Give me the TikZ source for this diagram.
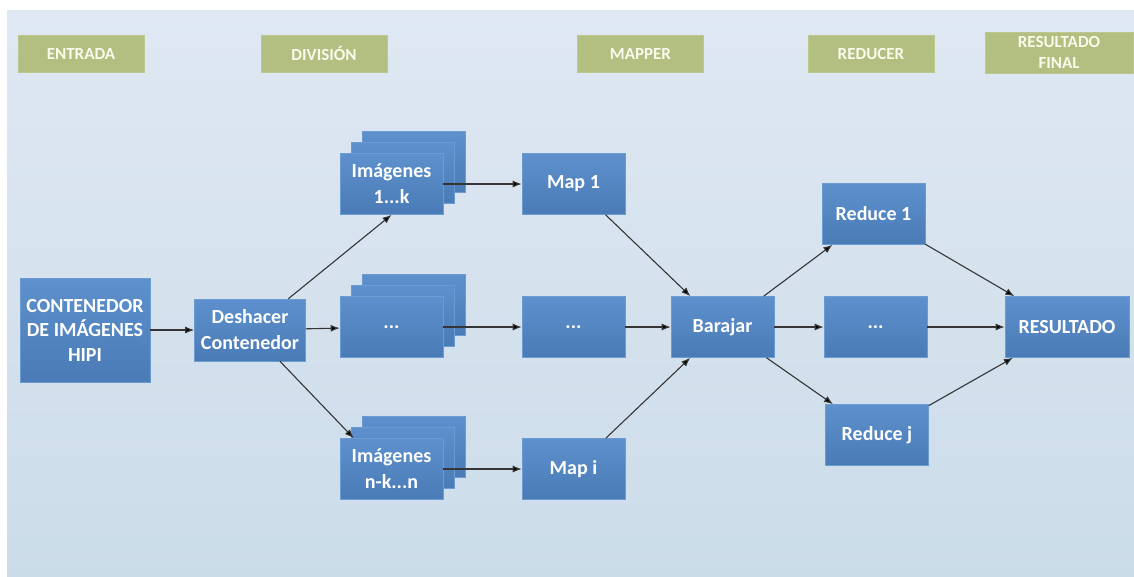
\documentclass[tikz,border=0pt]{standalone}
\usepackage{fontspec}
\setmainfont{Carlito}
\usepackage{xcolor}
\usepackage{tikz}
\usetikzlibrary{arrows.meta,positioning,shadows}

\definecolor{fondoarriba}{HTML}{DFE8F3}
\definecolor{fondoabajo}{HTML}{CBDCE9}
\definecolor{azularriba}{HTML}{5D90CC}
\definecolor{azulabajo}{HTML}{4A7BB7}
\definecolor{azulborde}{HTML}{6B9BD0}
\definecolor{verde}{HTML}{B2BF80}
\definecolor{verdeborde}{HTML}{BCC88E}
\definecolor{crema}{HTML}{FAFAEC}
\definecolor{flecha}{HTML}{353535}

\begin{document}
\begin{tikzpicture}[x=1pt,y=-1pt,>={Latex[length=9pt,width=7pt]},
   caja/.style={rectangle,draw=azulborde,line width=0.6pt,
      top color=azularriba,bottom color=azulabajo,text=white,align=center,
      font=\bfseries\fontsize{20}{26}\selectfont,inner sep=1pt,
      minimum width=103pt,minimum height=61pt},
   pila/.style={caja,double copy shadow={shadow xshift=11pt,shadow yshift=11pt,
      draw=azulborde,top color=azularriba,bottom color=azulabajo}},
   etapa/.style={rectangle,draw=verdeborde,fill=verde,text=crema,align=center,
      font=\bfseries\fontsize{17}{21}\selectfont,
      minimum width=126pt,minimum height=37pt},
   flechas/.style={->,draw=flecha,line width=1.1pt}]

   \fill[white] (0,0) rectangle (1134,576);
   \useasboundingbox (0,0) rectangle (1134,576);
   \fill[top color=fondoarriba,bottom color=fondoabajo] (7,10) rectangle (1134,576);

   \node[etapa] (entrada)  at (81,53.5)    {ENTRADA};
   \node[etapa] (division) at (324,53.5)   {DIVISIÓN};
   \node[etapa] (mapper)   at (640.5,53.5) {MAPPER};
   \node[etapa] (reducer)  at (871,54)     {REDUCER};
   \node[etapa,minimum width=148pt,minimum height=41pt] (final) at (1059,52.5) {RESULTADO\\FINAL};

   \node[caja,minimum width=130pt,minimum height=104pt,font=\bfseries\fontsize{20}{24.5}\selectfont]
      (contenedor) at (85,330) {CONTENEDOR\\DE IMÁGENES\\HIPI};
   \node[caja,minimum width=111pt,minimum height=62pt] (deshacer) at (250,330) {Deshacer\\Contenedor};

   \node[pila] (img1) at (391.5,184) {Imágenes\\1...k};
   \node[pila] (imgm) at (391.5,327) {...};
   \node[pila] (imgn) at (391.5,469) {Imágenes\\n-k...n};

   \node[caja] (map1) at (573.5,184) {Map 1};
   \node[caja] (mapm) at (573.5,327) {...};
   \node[caja] (mapi) at (573.5,469) {Map i};

   \node[caja] (barajar) at (722.5,327) {Barajar};

   \node[caja] (reduce1) at (873.5,214) {Reduce 1};
   \node[caja] (reducem) at (875.5,327) {...};
   \node[caja] (reducej) at (877,435)   {Reduce j};

   \node[caja,minimum width=124pt] (resultado) at (1067,327) {RESULTADO};

   \path[flechas]
      (contenedor) edge (deshacer)
      (deshacer) edge (img1.south)
                 edge (imgm)
                 edge ([xshift=14pt]imgn.north west)
      (img1) edge (map1)
      (imgm) edge (mapm)
      (imgn) edge (mapi)
      (map1) edge (barajar)
      (mapm) edge (barajar)
      (mapi) edge (barajar)
      (barajar) edge (reduce1)
                edge (reducem)
                edge (reducej)
      (reduce1) edge (resultado)
      (reducem) edge (resultado)
      (reducej) edge (resultado);
\end{tikzpicture}
\end{document}
